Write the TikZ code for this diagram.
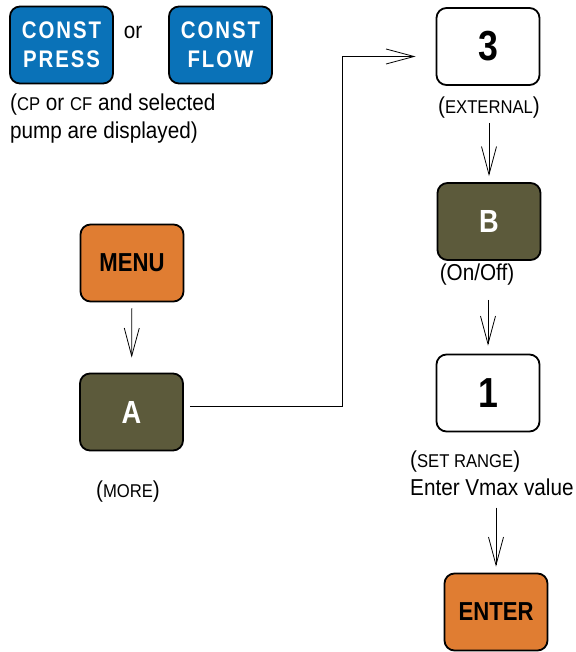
\documentclass[tikz,border=0pt]{standalone}
\usepackage{fontspec}
\setmainfont[FakeStretch=0.85]{Liberation Sans}
\usetikzlibrary{arrows.meta,positioning}
\definecolor{keyblue}{RGB}{10,114,184}
\definecolor{keyorange}{RGB}{224,125,50}
\definecolor{keyolive}{RGB}{92,90,59}
\newcommand{\smallcap}[1]{{\fontsize{18.5}{20}\selectfont #1}}

\begin{document}
\begin{tikzpicture}[x=1pt,y=-1pt,
  key/.style={rectangle,rounded corners=10pt,draw,line width=1.8pt,
    minimum width=103pt,minimum height=77pt,align=center,
    font=\bfseries\fontsize{26}{28}\selectfont},
  letterkey/.style={key,fill=keyolive,text=white,
    font=\bfseries\fontsize{32}{34}\selectfont},
  numkey/.style={key,fill=white,font=\bfseries\fontsize{42}{44}\selectfont},
  note/.style={font=\fontsize{23}{28}\selectfont\addfontfeature{FakeStretch=0.9},
    inner sep=0pt,align=left},
  arr/.style={-{Straight Barb[length=28pt,width=15pt]},line width=0.8pt}
]
\useasboundingbox (0,0) rectangle (575,652);

% Mode keys
\node[key,fill=keyblue,text=white,
  font=\bfseries\fontsize{24}{29}\selectfont\addfontfeature{LetterSpace=8}]
  (press) at (61.5,45) {CONST\\PRESS};
\node[note] (or) at (133,32) {or};
\node[key,fill=keyblue,text=white,
  font=\bfseries\fontsize{24}{29}\selectfont\addfontfeature{LetterSpace=8}]
  (flow) at (220.5,45) {CONST\\FLOW};
\node[note,anchor=west] (shown) at (10,119)
  {(\smallcap{CP} or \smallcap{CF} and selected\\pump are displayed)};

% Left column
\node[key,fill=keyorange] (menu) at (132,263) {MENU};
\node[letterkey] (a) at (131.5,412) {A};
\node[note] (more) at (128,492) {(\smallcap{MORE})};

\draw[arr,shorten <=6pt,shorten >=15pt] (menu) -- (a);

% Right column
\node[numkey] (three) at (488,46.5) {3};
\node[note] (ext) at (489,108) {(\smallcap{EXTERNAL})};
\node[letterkey] (b) at (489,221.5) {B};
\node[note] (onoff) at (477,275) {(On/Off)};
\node[numkey] (one) at (488,393) {1};
\node[note,anchor=west] (vmax) at (410,473) {(\smallcap{SET RANGE})\\Enter Vmax value};
\node[key,fill=keyorange] (enter) at (496,612) {ENTER};

\draw[arr,shorten <=4pt,shorten >=6pt] (ext) -- (b);
\draw[arr,shorten <=14pt,shorten >=8pt] (one.north |- onoff.south) -- (one.north);
\draw[arr,shorten <=12pt,shorten >=6pt] (vmax.south -| enter.north) -- (enter.north);

\draw[arr,shorten <=6pt,shorten >=20pt] ([yshift=6pt]a.east)
  -| ([xshift=-93pt,yshift=-10pt]three.west) -- ([yshift=-10pt]three.west);
\end{tikzpicture}
\end{document}
